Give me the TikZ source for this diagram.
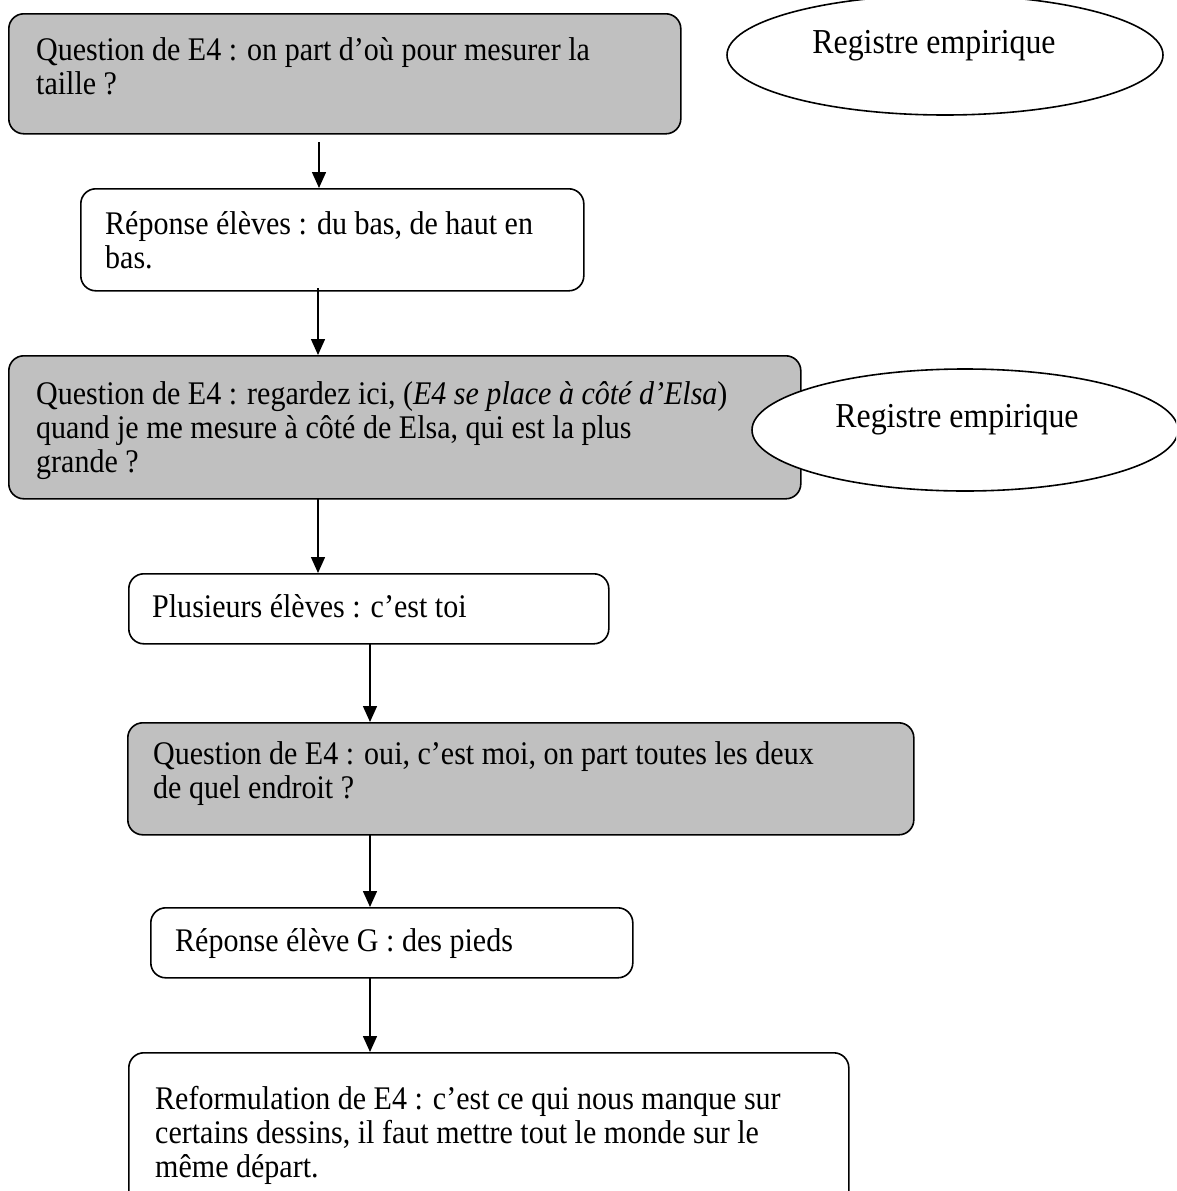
\documentclass[tikz,border=0pt]{standalone}
\usepackage{fontspec}
\setmainfont{Liberation Serif}[FakeStretch=0.91]
\usetikzlibrary{arrows.meta,shapes.geometric}
\definecolor{boxgray}{RGB}{192,192,192}
\begin{document}
\begin{tikzpicture}[x=1pt,y=-1pt,
  box/.style={draw, line width=1.6pt, rounded corners=15pt, inner sep=0pt, anchor=north west, fill=white},
  graybox/.style={box, fill=boxgray},
  oval/.style={draw, ellipse, line width=1.6pt, fill=white, inner sep=0pt},
  txt/.style={anchor=north west, inner sep=0pt, align=left, font=\fontsize{33}{34}\selectfont},
  otxt/.style={anchor=base, inner sep=0pt, font=\fontsize{35}{36}\selectfont},
  arr/.style={line width=1.5pt, -{Triangle[width=14pt,length=16pt]}}]
\clip (0,0) rectangle (1176,1191);
% boxes
\node[graybox, minimum width=672pt, minimum height=120pt] (b1) at (8,13) {};
\node[box, minimum width=503pt, minimum height=102pt] (b2) at (80,188) {};
\node[graybox, minimum width=792pt, minimum height=143pt] (b3) at (8,355) {};
\node[box, minimum width=480pt, minimum height=70pt] (b4) at (128,573) {};
\node[graybox, minimum width=786pt, minimum height=112pt] (b5) at (127,722) {};
\node[box, minimum width=482pt, minimum height=70pt] (b6) at (150,907) {};
\node[box, minimum width=720pt, minimum height=170pt] (b7) at (128,1052) {};
% ellipses
\node[oval, minimum width=436pt, minimum height=120pt] (e1) at (945,55) {};
\node[oval, minimum width=426pt, minimum height=122pt] (e2) at (965,430) {};
% texts (first baseline = node top + 23.8pt strut)
\node[txt] (t1) at (36,36) {\strut Question de E4 : on part d’où pour mesurer la\\taille ?};
\node[txt] (t2) at (105,210) {\strut Réponse élèves : du bas, de haut en\\bas.};
\node[txt] (t3) at (36,380) {\strut Question de E4 : regardez ici, (\textit{E4 se place à côté d’Elsa})\\quand je me mesure à côté de Elsa, qui est la plus\\grande ?};
\node[txt] (t4) at (152,593) {\strut Plusieurs élèves : c’est toi};
\node[txt] (t5) at (153,740) {\strut Question de E4 : oui, c’est moi, on part toutes les deux\\de quel endroit ?};
\node[txt] (t6) at (175,927) {\strut Réponse élève G : des pieds};
\node[txt] (t7) at (155,1085) {\strut Reformulation de E4 : c’est ce qui nous manque sur\\certains dessins, il faut mettre tout le monde sur le\\même départ.};
\node[otxt] (te1) at (934,53) {Registre empirique};
\node[otxt] (te2) at (957,427) {Registre empirique};
% arrows
\coordinate (s1) at (319,142);
\coordinate (s2) at (318,288);
\coordinate (s3) at (318,498);
\coordinate (s4) at (370,643);
\coordinate (s5) at (370,834);
\coordinate (s6) at (370,977);
\draw[arr] (s1) -- (s1 |- b2.north);
\draw[arr] (s2) -- (s2 |- b3.north);
\draw[arr] (s3) -- (s3 |- b4.north);
\draw[arr] (s4) -- (s4 |- b5.north);
\draw[arr] (s5) -- (s5 |- b6.north);
\draw[arr] (s6) -- (s6 |- b7.north);
\end{tikzpicture}
\end{document}
